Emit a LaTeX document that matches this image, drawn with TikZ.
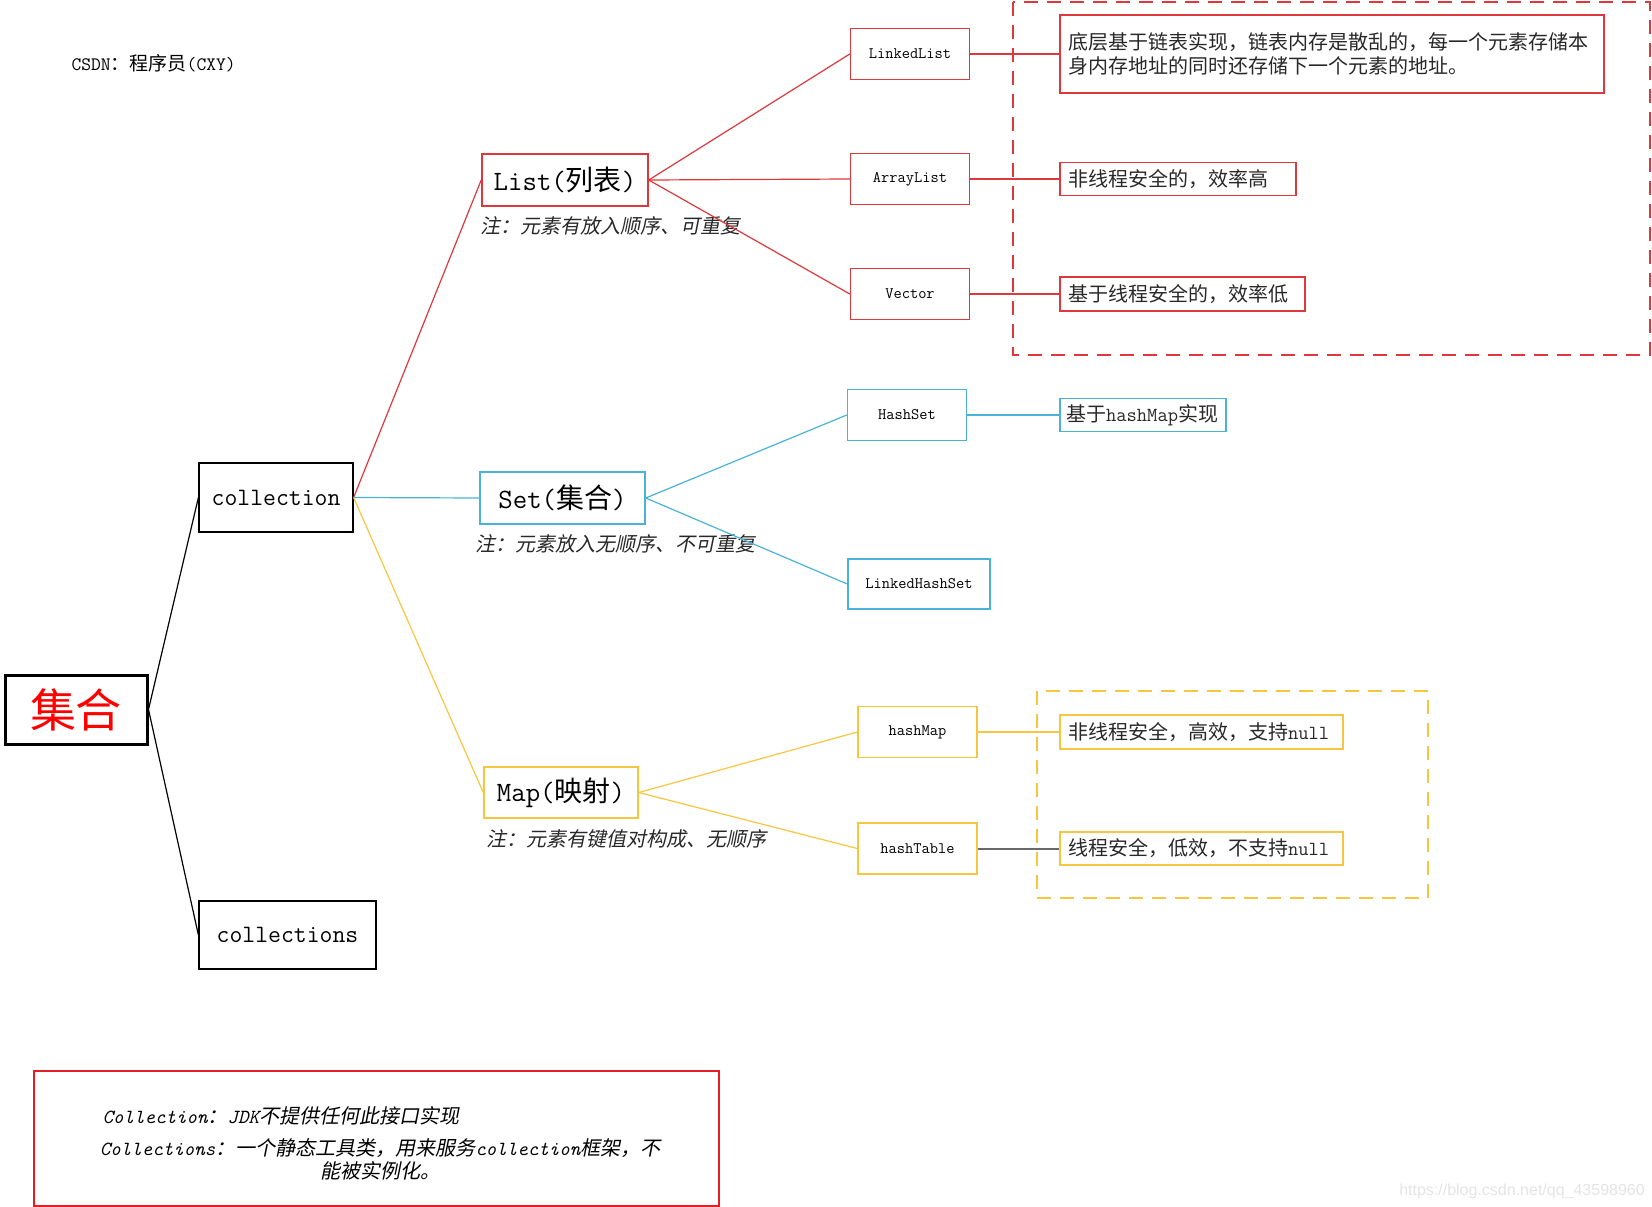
\documentclass[tikz,border=0pt]{standalone}
\usepackage{fontspec}
\newfontfamily\cjk{Noto Sans CJK SC}
\newfontfamily\cjkit[FakeSlant=0.2]{Noto Sans CJK SC}
\newfontfamily\urlfont{Liberation Sans}
\newcommand{\fsz}[1]{\fontsize{#1}{#1}\selectfont}
\newcommand{\enit}[1]{{\ttfamily\itshape #1}}
\newcommand{\zhit}[1]{{\cjkit #1}}
\definecolor{listred}{RGB}{222,56,60}
\definecolor{sumred}{RGB}{230,30,35}
\definecolor{setblue}{RGB}{74,178,216}
\definecolor{mapyellow}{RGB}{247,198,64}
\definecolor{linkgray}{RGB}{105,105,105}
\definecolor{textgray}{RGB}{40,40,40}
\begin{document}
\begin{tikzpicture}[x=1pt,y=-1pt,line width=1.2pt,
    kind/.style={draw,inner sep=0pt,line width=1.5pt,font=\ttfamily\fsz{28}},
    impl/.style={draw,inner sep=0pt,line width=1.5pt,minimum width=119pt,minimum height=51pt,font=\ttfamily\fsz{16}},
    desc/.style={draw,line width=1.5pt,inner xsep=8pt,inner ysep=0pt,align=left,text=textgray,font=\cjk\fsz{20}},
    remark/.style={anchor=west,inner sep=0pt,text=textgray,font=\cjkit\fsz{20}}]
\useasboundingbox (0,0) rectangle (1652,1207);
\node[anchor=west,inner sep=0pt,font=\ttfamily\fsz{19}] (csdn) at (71,63) {CSDN{\cjk ：程序员}(CXY)};

% root and the two top names
\node[draw,line width=3pt,minimum width=142pt,minimum height=69pt,text=red,font=\cjk\fsz{46}] (jihe) at (76,709.5) {集合};
\node[draw,minimum width=154pt,minimum height=69pt,font=\ttfamily\fsz{25}] (coll) at (276,497.5) {collection};
\node[draw,minimum width=177pt,minimum height=68pt,font=\ttfamily\fsz{25}] (colls) at (287.5,935) {collections};
\draw (jihe.east) -- (coll.west);
\draw (jihe.east) -- (colls.west);

% list
\node[kind,draw=listred,minimum width=166pt,minimum height=52pt] (list) at (565,180) {List({\cjk 列表})};
\node[remark] (listnote) at (480,226) {注：元素有放入顺序、可重复};
\node[impl,draw=listred] (linked) at (910,54) {LinkedList};
\node[impl,draw=listred] (array) at (910,179) {ArrayList};
\node[impl,draw=listred] (vector) at (910,294) {Vector};
\draw[listred,line width=2pt,dash pattern=on 14pt off 9pt] (1013,2) rectangle (1650,355);
\node[desc,draw=listred,text width=528pt,minimum height=78pt,font=\cjk\fontsize{20}{24}\selectfont] (linked-desc) at (1332,54)
    {底层基于链表实现，链表内存是散乱的，每一个元素存储本\\身内存地址的同时还存储下一个元素的地址。};
\node[desc,draw=listred,text width=220pt,minimum height=33pt] (array-desc) at (1178,179) {非线程安全的，效率高};
\node[desc,draw=listred,text width=229pt,minimum height=34pt] (vector-desc) at (1182.5,294) {基于线程安全的，效率低};
\draw[listred] (coll.east) -- (list.west);
\foreach \kid in {linked,array,vector}{
    \draw[listred] (list.east) -- (\kid.west);
    \draw[listred] (\kid.east) -- (\kid-desc.west);
}

% set
\node[kind,draw=setblue,minimum width=165pt,minimum height=52pt] (set) at (562.5,498) {Set({\cjk 集合})};
\node[remark] (setnote) at (475,544) {注：元素放入无顺序、不可重复};
\node[impl,draw=setblue] (hashset) at (907,415) {HashSet};
\node[impl,draw=setblue,minimum width=142pt,minimum height=50pt] (lhashset) at (919,584) {LinkedHashSet};
\node[desc,draw=setblue,inner xsep=6pt,text width=154pt,minimum height=33pt] (hashset-desc) at (1143,415) {基于{\ttfamily hashMap}实现};
\draw[setblue] (coll.east) -- (set.west);
\foreach \kid in {hashset,lhashset} \draw[setblue] (set.east) -- (\kid.west);
\draw[setblue] (hashset.east) -- (hashset-desc.west);

% map
\node[kind,draw=mapyellow,minimum width=154pt,minimum height=51pt] (map) at (561,792.5) {Map({\cjk 映射})};
\node[remark] (mapnote) at (486,839) {注：元素有键值对构成、无顺序};
\node[impl,draw=mapyellow] (hashmap) at (917.5,732) {hashMap};
\node[impl,draw=mapyellow] (hashtable) at (917.5,848.5) {hashTable};
\draw[mapyellow,line width=2pt,dash pattern=on 14pt off 9pt] (1037,691) rectangle (1428,898);
\node[desc,draw=mapyellow,text width=267pt,minimum height=34pt] (hashmap-desc) at (1201.5,732) {非线程安全，高效，支持{\ttfamily null}};
\node[desc,draw=mapyellow,text width=267pt,minimum height=33pt] (hashtable-desc) at (1201.5,848.5) {线程安全，低效，不支持{\ttfamily null}};
\draw[mapyellow] (coll.east) -- (map.west);
\foreach \kid in {hashmap,hashtable} \draw[mapyellow] (map.east) -- (\kid.west);
\draw[mapyellow] (hashmap.east) -- (hashmap-desc.west);
\draw[linkgray,line width=2pt] (hashtable.east) -- (hashtable-desc.west);

% summary box
\node[draw=sumred,line width=2.5pt,minimum width=685pt,minimum height=135pt] (summary) at (376.5,1138.5) {};
\node[anchor=west,inner sep=0pt,font=\fsz{20}] (sumline1) at (102,1116)
    {\enit{Collection}\zhit{：}\enit{JDK}\zhit{不提供任何此接口实现}};
\node[anchor=north,inner sep=0pt,align=center,font=\fontsize{20}{23}\selectfont] (sumline2) at (380,1138)
    {\enit{Collections}\zhit{：一个静态工具类，用来服务}\enit{collection}\zhit{框架，不}\\\zhit{能被实例化。}};

\node[font=\urlfont\fsz{16},text={rgb,255:red,228;green,228;blue,228}] (url) at (1522,1191) {https://blog.csdn.net/qq\_43598960};
\end{tikzpicture}
\end{document}
